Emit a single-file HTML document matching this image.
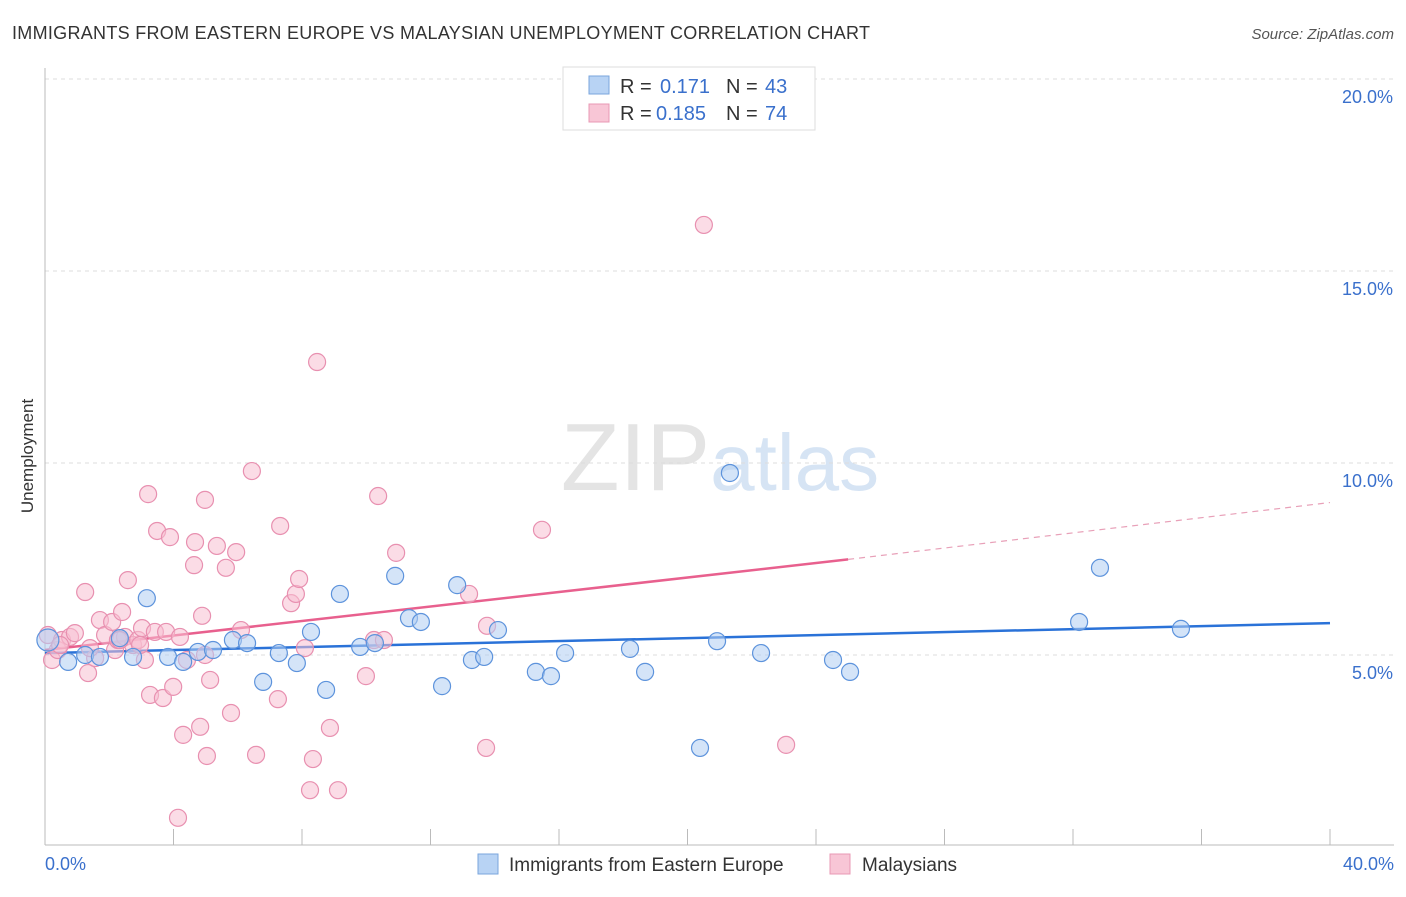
<!DOCTYPE html>
<html><head><meta charset="utf-8">
<style>
body{margin:0;background:#fff;font-family:"Liberation Sans",sans-serif;}
svg text{font-family:"Liberation Sans",sans-serif;}
</style></head>
<body>
<svg id="chart" width="1406" height="892" xmlns="http://www.w3.org/2000/svg">
<text x="12" y="39" font-size="18" fill="#333" textLength="858">IMMIGRANTS FROM EASTERN EUROPE VS MALAYSIAN UNEMPLOYMENT CORRELATION CHART</text>
<text x="1394" y="39" font-size="15" fill="#555" text-anchor="end" font-style="italic">Source: ZipAtlas.com</text>
<text transform="translate(33,456) rotate(-90)" font-size="17" fill="#333" text-anchor="middle">Unemployment</text>
<text x="720" y="490" font-size="96" text-anchor="middle" fill="#e4e4e4" font-family="Liberation Serif">ZIP<tspan fill="#d6e4f4" font-family="Liberation Sans" font-size="80">atlas</tspan></text>
<g id="grid"></g><g id="axes"></g><g id="lines"></g><g id="pts"></g>
<g>
<rect x="563" y="67" width="252" height="63" fill="#fff" stroke="#ddd"/>
<rect x="589" y="76" width="20" height="18" fill="#b8d3f4" stroke="#7aa6dc"/>
<text x="620" y="93" font-size="20" fill="#333">R =</text>
<text x="660" y="93" font-size="20" fill="#3a70cc">0.171</text>
<text x="726" y="93" font-size="20" fill="#333">N =</text>
<text x="765" y="93" font-size="20" fill="#3a70cc">43</text>
<rect x="589" y="104" width="20" height="18" fill="#f8c6d6" stroke="#e898b4"/>
<text x="620" y="120" font-size="20" fill="#333">R =</text>
<text x="656" y="120" font-size="20" fill="#3a70cc">0.185</text>
<text x="726" y="120" font-size="20" fill="#333">N =</text>
<text x="765" y="120" font-size="20" fill="#3a70cc">74</text>
</g>
<g>
<rect x="478" y="854" width="20" height="20" fill="#b8d3f4" stroke="#7aa6dc"/>
<text x="509" y="871" font-size="19" fill="#333">Immigrants from Eastern Europe</text>
<rect x="830" y="854" width="20" height="20" fill="#f8c6d6" stroke="#e898b4"/>
<text x="862" y="871" font-size="19" fill="#333">Malaysians</text>
</g>
</svg>
<script>
const blueX=[0.09,0.72,1.25,1.71,2.33,2.74,3.17,3.83,4.30,4.76,5.23,5.85,6.29,6.79,7.28,7.84,8.28,8.75,9.18,9.81,10.27,10.90,11.33,11.70,12.36,12.83,13.29,13.67,14.10,15.28,15.75,16.19,18.21,18.68,20.39,20.92,21.32,22.29,24.53,25.06,32.19,32.84,35.36];
const blueY=[5.39,4.82,5.0,4.95,5.44,4.95,6.48,4.95,4.82,5.08,5.13,5.39,5.31,4.30,5.05,4.79,5.60,4.09,6.59,5.21,5.31,7.06,5.96,5.86,4.19,6.82,4.87,4.95,5.65,4.56,4.45,5.05,5.16,4.56,2.58,5.36,9.74,5.05,4.87,4.56,5.86,7.27,5.68];
const pinkX=[0.09,0.22,0.40,0.53,0.78,0.93,1.25,1.34,1.56,1.71,1.87,2.09,2.18,2.27,2.40,2.49,2.58,2.74,2.90,3.02,3.11,3.21,3.27,3.42,3.49,3.67,3.77,3.89,3.99,4.20,4.30,4.42,4.64,4.67,4.83,4.89,4.98,5.04,5.14,5.35,5.63,5.79,5.95,6.10,6.44,6.57,7.25,7.32,7.66,7.81,7.91,8.09,8.34,8.47,8.25,8.87,9.12,9.99,10.24,10.37,10.55,10.93,13.20,13.76,13.73,15.47,20.51,23.07,4.14,2.33,0.47,1.40,2.96,4.98];
const pinkY=[5.52,4.87,5.13,5.39,5.47,5.57,6.64,4.53,4.92,5.91,5.52,5.86,5.13,5.39,6.12,5.47,6.95,5.26,5.39,5.70,4.87,9.19,3.96,5.60,8.23,3.88,5.60,8.07,4.17,5.47,2.92,4.87,7.34,7.94,3.13,6.02,9.04,2.37,4.35,7.84,7.27,3.49,7.68,5.65,9.79,2.40,3.85,8.36,6.35,6.59,6.98,5.18,2.29,12.63,1.48,3.10,1.48,4.45,5.39,9.14,5.39,7.66,6.59,5.76,2.58,8.26,16.20,2.66,0.76,5.39,5.26,5.18,5.26,5.00];
const blueTrend=[0,5.05,40,5.83];
const pinkTrend=[0,5.13,25,7.49,40,8.97];
const yTicks=[5,10,15,20];
const xTickLabels=["0.0%","40.0%"];
const NS="http://www.w3.org/2000/svg";
const X=v=>45+v/40*1285, Y=v=>847-v*38.4;
function mk(tag,attrs,parent){const e=document.createElementNS(NS,tag);for(const k in attrs)e.setAttribute(k,attrs[k]);document.getElementById(parent).appendChild(e);return e;}
yTicks.forEach(t=>{
 const l=mk('line',{x1:45,x2:1394,y1:Y(t),y2:Y(t),stroke:'#ddd','stroke-dasharray':'4,4'},'grid');
 
 
 const tx=mk('text',{x:1393,y:Y(t)+24,'font-size':18,fill:'#3a70cc','text-anchor':'end'},'axes');tx.textContent=t.toFixed(1)+'%';
 
 
});
mk('line',{x1:45,x2:45,y1:68,y2:845,stroke:'#bbb'},'axes');
mk('line',{x1:45,x2:1394,y1:845,y2:845,stroke:'#bbb'},'axes');
for(let i=1;i<=10;i++){const t=mk('line',{x1:X(i*4),x2:X(i*4),y1:829,y2:845,stroke:'#bbb'},'axes');
 
 }
let a=mk('text',{x:45,y:870,'font-size':18,fill:'#3a70cc'},'axes');a.textContent=xTickLabels[0];


a=mk('text',{x:1394,y:870,'font-size':18,fill:'#3a70cc','text-anchor':'end'},'axes');a.textContent=xTickLabels[1];


function dot(x,y,r,f,s,name){const c=mk('circle',{cx:X(x),cy:Y(y),r:r,fill:f,'fill-opacity':0.55,stroke:s,'stroke-width':1.2},'pts');
 
 }
pinkX.forEach((x,i)=>dot(x,pinkY[i],8.5,'#f8c0d2','#e890b0','malaysians-point'));
blueX.forEach((x,i)=>dot(x,blueY[i],i===0?11:8.5,'#b0cdf2','#5d93dc','eastern-europe-point'));
let ln=mk('line',{x1:X(blueTrend[0]),y1:Y(blueTrend[1]),x2:X(blueTrend[2]),y2:Y(blueTrend[3]),stroke:'#2a72d8','stroke-width':2.5},'lines');


ln=mk('line',{x1:X(pinkTrend[0]),y1:Y(pinkTrend[1]),x2:X(pinkTrend[2]),y2:Y(pinkTrend[3]),stroke:'#e8608e','stroke-width':2.5},'lines');


ln=mk('line',{x1:X(pinkTrend[2]),y1:Y(pinkTrend[3]),x2:X(pinkTrend[4]),y2:Y(pinkTrend[5]),stroke:'#e8a0b8','stroke-width':1.2,'stroke-dasharray':'6,5'},'lines');


</script>
</body></html>
